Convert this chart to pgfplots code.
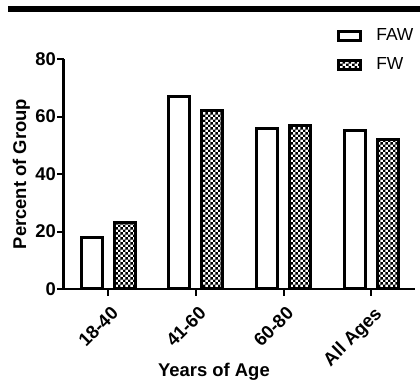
\documentclass[border=0pt]{standalone}
\usepackage{pgfplots}
\pgfplotsset{compat=1.18}
\usepackage{fontspec}
\setmainfont{Liberation Sans}
\usetikzlibrary{patterns}
\pgfdeclarepatternformonly{checker}{\pgfpointorigin}{\pgfqpoint{5.4bp}{5.4bp}}{\pgfqpoint{5.4bp}{5.4bp}}{%
 \pgfpathrectangle{\pgfpointorigin}{\pgfqpoint{2.7bp}{2.7bp}}%
 \pgfpathrectangle{\pgfqpoint{2.7bp}{2.7bp}}{\pgfqpoint{2.7bp}{2.7bp}}%
 \pgfusepath{fill}}
\pgfplotsset{boxleg/.style={legend image code/.code={\draw[##1, line width=3bp] (1.5bp,-4.5bp) rectangle (23.5bp,4.5bp); \path (36bp,0bp);}}}
\begin{document}
\begin{tikzpicture}
\useasboundingbox (0,0) rectangle (420bp,389bp);
\fill[black] (8bp,377bp) rectangle (420bp,383bp);
\begin{axis}[
 at={(63.5bp,100bp)}, anchor=south west,
 scale only axis, width=351.5bp, height=230bp,
 xmin=-0.51, xmax=3.5, ymin=0, ymax=80,
 axis lines=left,
 axis line style={-, line width=2bp},
 every outer x axis line/.append style={-},
 every outer y axis line/.append style={-},
 tick align=outside, major tick length=6.5bp,
 tick style={line width=2bp, black},
 /pgf/number format/assume math mode=true,
 xtick={0,1,2,3},
 xticklabels={18-40,41-60,60-80,All Ages},
 x tick label style={rotate=45, anchor=north east, font=\bfseries\fontsize{18.5}{18.5}\selectfont, xshift=-2bp, yshift=-5bp},
 ytick={0,20,40,60,80},
 y tick label style={font=\bfseries\fontsize{18.5}{18.5}\selectfont, inner sep=1bp},
 ylabel={Percent of Group},
 ylabel style={font=\bfseries\fontsize{18.5}{18.5}\selectfont, at={(axis description cs:-0.12,0.5)}, anchor=center},
 xlabel={Years of Age},
 xlabel style={font=\bfseries\fontsize{18.5}{18.5}\selectfont, at={(axis description cs:0.428,-0.36)}, anchor=center},
 ybar=12bp, bar width=21bp,
 legend style={at={(axis description cs:0.777,1.14)}, anchor=north west, draw=none, fill=none, inner sep=0pt,
   font=\fontsize{17.5}{17.5}\selectfont, row sep=11.5bp},
 legend cell align=left,
]
\addplot[draw=black, fill=white, line width=3bp, boxleg]
  coordinates {(0,18) (1,67) (2,56) (3,55)};
\addplot[draw=black, pattern=checker, line width=3bp, boxleg]
  coordinates {(0,23) (1,62) (2,57) (3,52)};
\legend{FAW, FW}
\end{axis}
\end{tikzpicture}
\end{document}
